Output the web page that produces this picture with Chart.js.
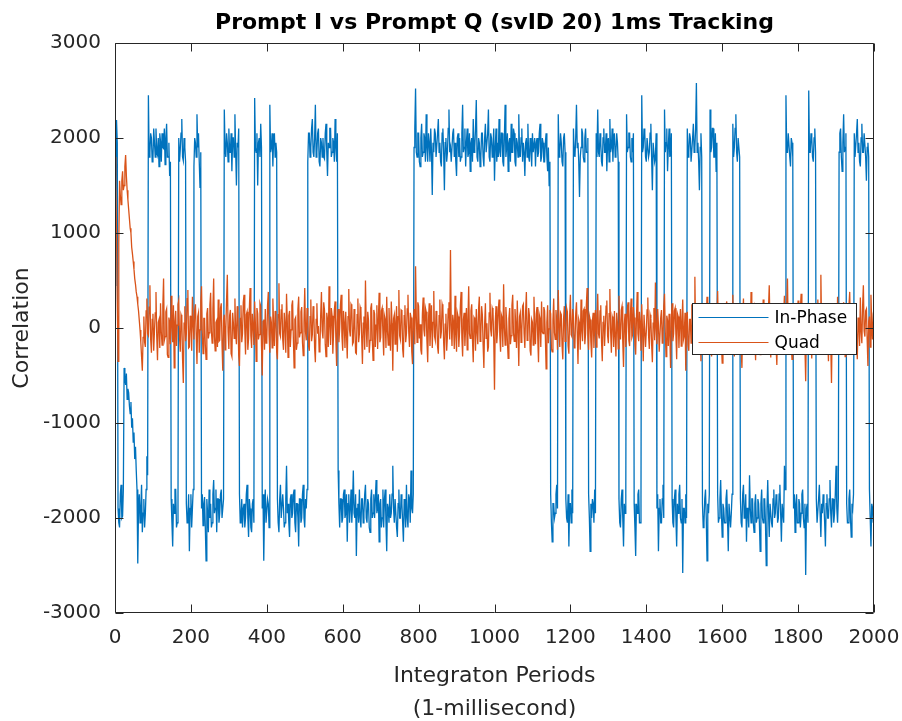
<!DOCTYPE html>
<html>
<head>
<meta charset="utf-8">
<script src="https://cdn.jsdelivr.net/npm/chart.js@4/dist/chart.umd.min.js"></script>
<style>
html,body{margin:0;padding:0;background:#ffffff;}
#wrap{width:902px;height:721px;}
</style>
</head>
<body>
<div id="wrap"><canvas id="c" width="902" height="721"></canvas></div>
<script>
// ---- data ----
const sampleStepMs = 2;                 // one stored sample every 2 integration periods
const xTickValues = [0, 200, 400, 600, 800, 1000, 1200, 1400, 1600, 1800, 2000];
const yTickValues = [-3000, -2000, -1000, 0, 1000, 2000, 3000];
const seriesNames = ['In-Phase', 'Quad'];

// In-Phase prompt correlator, one row per 20 ms navigation bit (bit edges at 8 + 20k ms)
const inPhase = [
  450, 1300, 2190, 1950,
  -1900, -2050, -2100, -1750, -1650, -2000, -1980, -1700, -420, -520,
  -600, -480, -750, -640, -680, -820, -900, -780, -1050, -950,
  -1200, -1100, -1380, -1250, -1500, -1700, -2480, -1900, -1750, -2050,
  -1900, -1650, -2150, -1950, -1800, -2100, -1950, -1700, -1350, -1550,
  2450, 1800, 1850, 2050, 2000, 1750, 1780, 2100, 1950, 1800,
  2100, 1850, 1820, 2000, 1700, 2050, 1960, 1750, 2050, 1900,
  1890, 2100, 1720, 2000, 2150, 1800, 1800, 1950, 1600, 1750,
  -1800, -2050, -2300, -1850, -1950, -1700, -1700, -2100, -2050, -1800,
  2000, 1750, 1880, 2050, 2200, 1800, 1760, 2000, 1900, 1750,
  -1850, -2050, -2000, -1750, -2350, -1900, -1750, -2100, -1900, -1700,
  1700, 2000, 1950, 1800, 2250, 1900, 2050, 1750, 1480, 1850,
  -1900, -1750, -2080, -1850, -1780, -2100, -2450, -1800, -1950, -2150,
  -1700, -2000, -1850, -2100, -2050, -1750, -1600, -1950, -1900, -1700,
  -2150, -1800, -1800, -2050, -1950, -1750, -1700, -2000, -2000, -1800,
  2300, 1900, 1800, 2050, 1950, 1750, 2100, 1850, 1850, 2050,
  1650, 2000, 2000, 1800, 2250, 1850, 1500, 1950, 1900, 2100,
  -1750, -2050, -1980, -1800, -2100, -1900, -1850, -2100, -2000, -1750,
  -1650, -2000, -2200, -1800, -1900, -2100, -2150, -1850, -1800, -2050,
  2420, 1900, 1850, 2050, 1500, 1950, 2000, 1800, 2150, 1900,
  -1900, -1750, -2450, -1900, -1700, -2050, -2050, -1800, -1850, -2100,
  2350, 1850, 1900, 2050, 1700, 2000, 2050, 1800, 1950, 1850,
  -1800, -2050, -2150, -1800, -1650, -2000, -2000, -1750, -1900, -2100,
  -2050, -1800, -1450, -1950, -1850, -2050, -2200, -1800, -1750, -2000,
  -1950, -1750, -1700, -2050, -2150, -1850, -1850, -2000, -2300, -1800,
  -1800, -2050, -2000, -1750, -1650, -2000, -2100, -1800, -1900, -1700,
  1750, 2050, 2050, 1800, 1900, 2100, 2200, 1850, 1800, 2000,
  2350, 1800, 1850, 2050, 2100, 1750, 1700, 2000, 1950, 1800,
  2000, 1800, 1780, 2050, 2150, 1850, 1600, 1950, 1900, 2100,
  2100, 1800, 1850, 2000, 1950, 1750, 2200, 1900, 1750, 2050,
  -1500, -1850, -2100, -1800, -1800, -2050, -2000, -1750, -1700, -2000,
  -1950, -1750, -2250, -1850, -1750, -2050, -1900, -1700, -2050, -1850,
  -1500, -1950, -2000, -1750, -2400, -1900, -1850, -2050, -1700, -2000,
  -2100, -1800, -1800, -2050, -1950, -1750, -1650, -2000, -2050, -1800,
  -1850, -2100, -2150, -1800, -1700, -2000, -1950, -1750, -2000, -1800,
  -1600, -1950, -1900, -1750, -2250, -1850, -1800, -2100, -2000, -1700,
  -2100, -1800, -1700, -2050, -2350, -1850, -1900, -2050, -1750, -2000,
  -1950, -1750, -1450, -1900, -2050, -1800, -1800, -2100, -2200, -1850,
  -1700, -2000, -2000, -1750, -1850, -2050, -2250, -1800, -1900, -2100,
  -1650, -2000, -2100, -1750, -1800, -2050, -1500, -1900, -1950, -1750,
  1900, 2100, 2520, 1850, 1800, 2050, 2050, 1750, 1700, 2000,
  2150, 1800, 1850, 2050, 2000, 1750, 2250, 1900, 1750, 2050,
  1950, 1750, 2100, 1850, 1400, 1950, 1850, 2100, 2050, 1800,
  1800, 2050, 2200, 1850, 1950, 1750, 1700, 2050, 2100, 1850,
  1450, 1950, 2000, 1750, 1850, 2100, 2300, 1850, 1900, 1750,
  1750, 2050, 2100, 1800, 1950, 1750, 1600, 2000, 2050, 1800,
  2000, 1750, 1800, 2050, 2350, 1850, 1900, 2100, 1700, 1950,
  2100, 1800, 1850, 2050, 1650, 1950, 2000, 1750, 2200, 1850,
  1900, 2100, 2400, 1800, 1750, 2000, 1950, 1700, 1800, 2050,
  2050, 1800, 1700, 2000, 2150, 1850, 1850, 2050, 2300, 1800,
  1750, 2050, 2000, 1800, 1900, 2100, 1550, 1900, 2100, 1750,
  1950, 1800, 2200, 1850, 1800, 2050, 2050, 1750, 1700, 2000,
  2350, 1800, 1900, 2050, 1650, 1950, 2000, 1750, 2150, 1850,
  1850, 2100, 2050, 1750, 1700, 2000, 1950, 1800, 2250, 1850,
  1800, 2000, 2100, 1750, 1950, 1850, 1600, 1950, 2000, 1800,
  2150, 1800, 1750, 2000, 1900, 1700, 2050, 1850, 1850, 2000,
  1700, 1950, 2000, 1800, 1850, 2050, 2150, 1750, 1800, 2000,
  1950, 1750, 1750, 1950, 2050, 1800, 1650, 1900, 1500, 1750,
  -1750, -2050, -2250, -1850, -1850, -2000, -1950, -1750, -1650, -1900,
  2250, 1800, 1850, 2050, 1950, 1750, 1700, 2000, 2050, 1850,
  -1800, -2000, -2050, -1750, -2300, -1850, -1850, -2050, -1700, -1950,
  2100, 1850, 1800, 2000, 2350, 1900, 1950, 1750, 1380, 1800,
  1900, 2100, 2050, 1800, 1750, 2000, 2100, 1850, 1850, 2000,
  -1750, -2000, -2350, -1850, -2000, -1800, -1850, -2050, -1700, -1950,
  2050, 1800, 2300, 1850, 1800, 2050, 1950, 1750, 1700, 2000,
  2100, 1850, 1850, 2050, 1650, 1950, 2000, 1750, 2200, 1850,
  1900, 2100, 1750, 2000, 2050, 1800, 1850, 2050, 1950, 1750,
  -1800, -2050, -2100, -1800, -1700, -2000, -2300, -1850, -1950, -1750,
  2250, 1850, 1900, 2050, 2050, 1800, 1750, 2000, 1850, 2050,
  -1850, -2100, -2400, -1850, -1950, -1750, -1700, -2050, -2050, -1800,
  2450, 1850, 1900, 2100, 2050, 1800, 1750, 2000, 2000, 1800,
  1850, 2050, 2150, 1800, 1450, 1950, 1950, 1750, 1800, 2050,
  -1900, -1750, -2350, -1900, -1800, -2050, -2050, -1800, -1650, -2000,
  2300, 1850, 1950, 2100, 1650, 1900, 2100, 1800, 1850, 2050,
  -1800, -2050, -2100, -1800, -1700, -2000, -2300, -1850, -1950, -1750,
  -1650, -2000, -2050, -1800, -2580, -1900, -1900, -2050, -1750, -2000,
  2100, 1800, 1850, 2050, 2000, 1750, 1750, 2000, 2150, 1850,
  1900, 2100, 2580, 1850, 1950, 1750, 1450, 1900, 2050, 1800,
  -1850, -2100, -2050, -1800, -1700, -2000, -2450, -1850, -1950, -1750,
  2300, 1850, 1900, 2100, 2100, 1800, 1800, 2050, 1650, 1950,
  -1750, -2050, -2000, -1800, -1600, -1950, -2200, -1850, -1900, -2050,
  -2050, -1800, -1700, -2000, -2350, -1850, -1850, -2100, -1950, -1750,
  2150, 1800, 1900, 2100, 2250, 1850, 1750, 2000, 2000, 1800,
  -1800, -2050, -2100, -1750, -1650, -2000, -1950, -1750, -2250, -1900,
  -1900, -2100, -1550, -1900, -2050, -1800, -1800, -2050, -2150, -1850,
  -1750, -2050, -2000, -1800, -1850, -2050, -2350, -1850, -1700, -2000,
  -2050, -1800, -1800, -2050, -2500, -1900, -1600, -1950, -2200, -1850,
  -1850, -2050, -2100, -1800, -1700, -2000, -1950, -1750, -1800, -2050,
  -2000, -1750, -1650, -1950, -2250, -1850, -1850, -2050, -1450, -1700,
  2450, 1850, 1850, 2050, 2050, 1800, 1700, 2000, 1950, 1800,
  -1900, -1750, -2150, -1850, -1750, -2050, -2050, -1800, -1850, -2100,
  -1950, -1750, -1700, -2000, -2100, -1850, -2600, -1900, -1850, -2050,
  2500, 1850, 1850, 2050, 2000, 1800, 1750, 2000, 2100, 1850,
  -1800, -2050, -2050, -1800, -1650, -1950, -2200, -1850, -1950, -1750,
  -1850, -2050, -2300, -1850, -1750, -2000, -2000, -1800, -1600, -1950,
  -2100, -1800, -1800, -2050, -1950, -1750, -1450, -1900, -2050, -1800,
  1850, 2050, 2100, 1800, 1650, 1950, 2250, 1850, 1900, 2050,
  -1850, -2050, -2050, -1800, -1700, -2000, -2200, -1850, -1900, -1750,
  2050, 1800, 1800, 2050, 2200, 1850, 1950, 1750, 1700, 2000,
  2150, 1850, 1850, 2050, 2050, 1800, 1550, 1900, 1950, 1800,
  -1700, -2000, -2300, -1850, -1900, -2050, -1600
];

// Quadrature prompt correlator
const quad = [
  1800, 1500, 1000, 300, -350, 900, 1550, 1400, 1300, 1550,
  1650, 1450, 1500, 1700, 1820, 1600, 1450, 1350, 1250, 1150,
  1050, 1000, 850, 780, 700, 620, 520, 460, 380, 330,
  250, 180, 80, -20, -150, -300, -450, -100,
  120, -150, -200, 180, 310, -60, -80, 220, 450, -120, -260, 90, 150, -240, -30, 160, 380, -90, -340, 60,
  90, -210, 260, -40, -180, 230, 520, -130, -90, 170, 200, -280, -310, 110, 60, -170, 340, 20, -150, 240,
  -420, 70, 180, -190, 30, 250, 290, -100, -250, 140, 110, -320, -580, 50, 230, -140, -60, 310, 400, -210,
  -200, 130, 70, -240, 330, 40, -120, 190, 250, -70, -380, 120, 160, -260, -20, 280, 440, -50, -270, 100,
  100, -180, -330, 150, 210, -110, -50, 240, 370, -30, -160, 200, 520, -90, -240, 60, 80, -200, 300, -140,
  -130, 210, 260, -170, -450, 80, 140, -230, -10, 300, 560, -40, -220, 130, 190, -270, -300, 160, 50, -110,
  310, -60, -170, 230, 120, -290, -400, 100, 240, -150, -60, 270, 350, -20, -280, 140, 170, -230, -110, 200,
  420, -80, -210, 150, 30, -180, 280, 40, -350, 210, 150, -120, -70, 260, 230, -190, -500, 70, 90, -230,
  200, -160, -140, 240, 380, -70, -260, 120, 60, -210, 310, 30, -190, 180, 130, -250, -330, 140, 470, -60,
  -90, 190, 250, -120, -230, 160, 40, -260, 360, 70, -310, 130, 180, -200, -20, 240, 290, -110, -420, 90,
  110, -230, -160, 200, 330, -100, -50, 170, 220, -150, -290, 60, 420, -40, -130, 210, 80, -190, -240, 120,
  300, -140, -70, 230, 150, -210, -360, 90, 260, -60, 20, -250, -200, 140, 380, -30, -110, 270, 190, -170,
  -300, 160, 90, -200, 440, 30, -180, 210, 130, -270, -50, 190, 280, -120, -400, 60, 200, -150, -10, 240,
  350, -90, -240, 180, 60, -210, 170, -60, -320, 120, 410, -20, -90, 250, 230, -170, -150, 200, 40, -260,
  -270, 140, 310, -150, -60, 220, 190, -100, -380, 50, 120, -230, 500, 10, -200, 170, 80, -260, -130, 210,
  260, -120, -340, 190, 150, -200, 30, 240, -220, 80, 370, -150, -100, 180, 210, -60, -290, 130, 90, -210,
  330, -30, -180, 210, -20, -240, 280, 50, -450, 100, 140, -170, 60, 230, -250, 120, 400, -80, -120, 190,
  180, -220, -310, 130, 240, -150, -60, 200, 350, -40, -200, 160, 110, -250, -380, 90, 200, -170, 650, 120,
  -150, 270, 230, -110, 40, -230, -280, 150, 320, -20, -90, 210, 170, -140, -360, 80, 260, -190, 20, 240,
  -210, 60, 390, -90, -130, 180, 100, -200, -270, 130, 300, -110, -40, 250, 210, -150, -330, 40, 150, -240,
  -80, 200, 270, -120, 820, 30, -190, 140, 60, -220, 340, -70, -250, 160, 120, -200, -40, 230, 380, -100,
  -300, 90, 160, -190, 20, 210, -230, 70, 440, -60, -110, 180, 250, -130, -360, 110, 90, -240, 200, -30,
  -170, 200, 330, -140, -60, 230, 140, -180, -420, 40, 260, -110, 50, -250, -200, 160, 370, -20, -90, 210,
  180, -120, -650, 60, 230, -160, -30, 190, 300, -80, -250, 140, 110, -200, 460, 10, -180, 220, 70, -140,
  -320, 100, 210, -170, -80, 240, 350, -50, -140, 200, 40, -210, 290, -30, -400, 120, 160, -150, -20, 230,
  250, -60, -210, 170, 380, -130, -100, 210, 130, -240, -290, 90, 60, -180, 330, 20, -170, 150, 220, -110,
  -360, 140, 100, -200, 280, -40, -60, 220, 180, -90, -430, 60, 240, -160, -10, 190, 150, -220, -250, 80,
  310, -50, -120, 190, 60, -230, 400, 30, -200, 160, 140, -180, -330, 100, 230, -140, -40, 210, 170, -190,
  -270, 120, 350, -70, -90, 200, 120, -210, -180, 150, 270, -40, -380, 90, 50, -230, 300, -20, -140, 180,
  200, -170, -60, 240, 420, -90, -230, 130, 90, -150, -310, 70, 160, -210, 30, 190, -200, 110, 360, -60,
  -110, 180, 240, -140, -350, 60, 130, -190, 20, 230, 290, -80, -160, 150, 410, -40, -260, 120, 80, -200,
  180, -90, -300, 160, 50, -220, 340, -30, -120, 190, 230, -150, -410, 40, 150, -200, -30, 210, 270, -130,
  -190, 130, 310, -100, -70, 220, 110, -180, -280, 90, 380, -60, -140, 170, 60, -240, 250, -20, -350, 140,
  140, -200, -40, 190, 320, -80, -220, 140, 100, -170, -360, 50, 210, -130, 480, -10, -170, 200, 30, -250,
  -250, 110, 190, -160, -90, 230, 360, -40, -300, 130, 80, -190, 150, -70, -420, 100, 260, -140, -60, 180,
  210, -70, -330, 150, 120, -210, 40, 200, -190, 60, 300, -120, -80, 160, -450, 20, 170, -180, -240, 90,
  90, -160, 250, -50, -140, 180, 540, -90, -280, 110, 60, -230, 200, -40, -350, 150, 130, -200, -20, 230,
  -210, 80, 330, -120, -100, 210, 170, -190, -300, 60, 240, -150, 30, 180, -160, 120, 390, -70, -250, 140,
  110, -180, -370, 90, 200, -130, -40, 230, 280, -60, -230, 170, 140, -210, -90, 150, 350, -40, -300, 100,
  60, -190, 220, -80, -180, 160, 100, -230, -420, 70, 310, -110, -60, 200, 180, -150, -250, 130, 40, -180,
  380, -40, -150, 200, 230, -100, -340, 120, 90, -170, 160, -220, -280, 60, 20, -190, 300, -30, -200, 150,
  130, -170, -60, 210, 450, -20, -310, 110, 200, -150, -120, 180, 60, -200, -390, 50, 250, -100, -40, 190,
  170, -130, -260, 160, 340, -70, -100, 220, 520, -50, -200, 130, 80, -180, -330, 90, 140, -210, 20, 170,
  -180, 140, 290, -110, -50, 200, 360, -80, -240, 150, 120, -190, -560, 40, 200, -130, -90, 180, 250, -60,
  -320, 90, 130, -170, 40, 210, -200, 110, 300, -70, -130, 160, 560, -20, -270, 140, 100, -200, -40, 190,
  230, -100, -350, 180, 150, -160, -580, 70, 260, -120, -100, 200, 40, -210, 330, -30, -210, 130, 90, -150,
  -140, 200, 270, -90, -300, 150, 120, -180, -20, 230, 380, -50, -250, 120, 180, -160, -70, 210, 220, -110,
  -330, 110, 60, -190, 320, -40, -160, 230, 450, -30, -90, 180, 200, -120, -400, 70, 120, -200, 350, 40,
  -120, 150, 200
];

// ---- build chart ----
const FONT = "'DejaVu Sans', 'Liberation Sans', sans-serif";
const TEXT = '#262626';
const periods = inPhase.map((_, i) => i * sampleStepMs);
const toPoints = arr => arr.map((v, i) => ({x: periods[i], y: v}));
const colors = ['#0072BD', '#D95319'];

const matlabAxes = {
  id: 'matlabAxes',
  afterDatasetsDraw(chart) {
    const {ctx, chartArea: a, scales: {x, y}} = chart;
    ctx.save();
    ctx.strokeStyle = TEXT;
    ctx.lineWidth = 1;
    const L = Math.round(a.left) + 0.5, R = Math.round(a.right) - 0.5;
    const T = Math.round(a.top) + 0.5, B = Math.round(a.bottom) - 0.5;
    ctx.beginPath();
    ctx.rect(L, T, R - L, B - T);
    const tl = 8;
    xTickValues.forEach(v => {
      const px = Math.round(x.getPixelForValue(v)) + 0.5;
      ctx.moveTo(px, B); ctx.lineTo(px, B - tl);
      ctx.moveTo(px, T); ctx.lineTo(px, T + tl);
    });
    yTickValues.forEach(v => {
      const py = Math.round(y.getPixelForValue(v)) + 0.5;
      ctx.moveTo(L, py); ctx.lineTo(L + tl, py);
      ctx.moveTo(R, py); ctx.lineTo(R - tl, py);
    });
    ctx.stroke();

    // legend box (MATLAB style, inside axes)
    const bx = Math.round(a.right) - 182 + 0.5, by = Math.round(a.top) + 260 + 0.5;
    const bw = 164, bh = 51;
    ctx.fillStyle = '#ffffff';
    ctx.fillRect(bx, by, bw, bh);
    ctx.strokeStyle = TEXT;
    ctx.strokeRect(bx, by, bw, bh);
    ctx.font = '17px ' + FONT;
    ctx.textBaseline = 'middle';
    ctx.textAlign = 'left';
    seriesNames.forEach((name, i) => {
      const ly = Math.round(by + 13 + i * 25) + 0.5;
      ctx.strokeStyle = colors[i];
      ctx.beginPath();
      ctx.moveTo(bx + 6, ly); ctx.lineTo(bx + 76, ly);
      ctx.stroke();
      ctx.fillStyle = '#000000';
      ctx.fillText(name, bx + 82, ly + 1);
    });
    ctx.restore();
  }
};

new Chart(document.getElementById('c'), {
  type: 'line',
  data: {
    datasets: [
      {label: seriesNames[0], data: toPoints(inPhase), borderColor: colors[0], backgroundColor: colors[0],
       borderWidth: 1.3, pointRadius: 0, tension: 0, fill: false, order: 1},
      {label: seriesNames[1], data: toPoints(quad), borderColor: colors[1], backgroundColor: colors[1],
       borderWidth: 1.3, pointRadius: 0, tension: 0, fill: false, order: 0}
    ]
  },
  options: {
    responsive: false,
    devicePixelRatio: 1,
    animation: false,
    events: [],
    layout: {padding: {left: 0, right: 28, top: 0, bottom: 0}},
    plugins: {
      legend: {display: false},
      tooltip: {enabled: false},
      title: {
        display: true,
        text: 'Prompt I vs Prompt Q (svID 20) 1ms Tracking',
        font: {family: FONT, size: 22, weight: 'bold', lineHeight: 1.2},
        color: '#000000',
        padding: {top: 10, bottom: 6.6},
        fullSize: false
      }
    },
    scales: {
      x: {
        type: 'linear',
        min: 0, max: 2000,
        grid: {display: false, drawTicks: false},
        border: {display: false},
        afterBuildTicks: s => { s.ticks = xTickValues.map(v => ({value: v})); },
        afterFit: s => { s.height = 108; s.paddingLeft = 0; s.paddingRight = 0; },
        ticks: {
          color: TEXT, font: {family: FONT, size: 20}, padding: 13, maxRotation: 0,
          callback: v => String(v)
        },
        title: {
          display: true,
          text: ['Integraton Periods', '(1-millisecond)'],
          color: TEXT,
          font: {family: FONT, size: 22, lineHeight: 1.5},
          padding: {top: 0, bottom: -5}
        }
      },
      y: {
        type: 'linear',
        min: -3000, max: 3000,
        grid: {display: false, drawTicks: false},
        border: {display: false},
        afterBuildTicks: s => { s.ticks = yTickValues.map(v => ({value: v})); },
        afterFit: s => { s.width = 115; s.paddingTop = 0; s.paddingBottom = 0; },
        ticks: {
          color: TEXT, font: {family: FONT, size: 20}, padding: 14,
          callback: v => String(v)
        },
        title: {
          display: true,
          text: 'Correlation',
          color: TEXT,
          font: {family: FONT, size: 22, lineHeight: 1.2},
          padding: {top: 9, bottom: 0}
        }
      }
    }
  },
  plugins: [matlabAxes]
});
</script>
</body>
</html>
